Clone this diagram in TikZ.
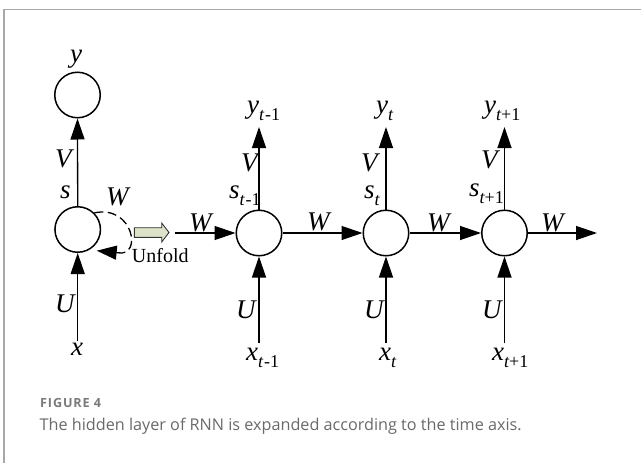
\documentclass[tikz,border=0pt]{standalone}
\usepackage{fontspec}
\setmainfont{Liberation Serif}
\newfontfamily\capfont{Open Sans}
\newfontfamily\figfont[LetterSpace=7]{Open Sans}
\usetikzlibrary{arrows.meta}
\definecolor{framegray}{HTML}{A8A8A8}
\definecolor{capgray}{HTML}{6A6A6A}
\definecolor{figgray}{HTML}{7A7A7A}
\definecolor{unfoldfill}{HTML}{DDE2CB}
% subscript set smaller and lowered, as in the figure
\newcommand{\lsub}[1]{\raisebox{-7pt}{\fontsize{18}{18}\selectfont #1}}
\begin{document}
\begin{tikzpicture}[x=1pt,y=1pt,
  unit/.style={circle,draw,line width=1.5pt,minimum size=45.5pt,inner sep=0pt},
  link/.style={line width=1.3pt,-{Triangle[length=21pt,width=14pt]}},
  lab/.style={inner sep=0pt,anchor=base west,font=\fontsize{27}{27}\selectfont\itshape},
  plain/.style={inner sep=0pt,anchor=base west,font=\fontsize{20}{20}\selectfont},
]
\useasboundingbox (0,0) rectangle (641,-463);
\fill[white] (0,0) rectangle (641,-463);
% frame
\draw[framegray,line width=1.4pt] (4,-463) -- (4,-9.7) -- (641,-9.7);

% folded network
\node[unit] (Cy) at (77.5,-95) {};
\node[unit] (C0) at (77.7,-229.5) {};
% unfolded network
\node[unit] (C1) at (259,-233) {};
\node[unit] (C2) at (386,-233) {};
\node[unit] (C3) at (504.5,-233) {};

% free ends of connectors
\coordinate (x0) at (77.7,-341);
\coordinate (x1) at (259,-343);
\coordinate (x2) at (386,-343);
\coordinate (x3) at (504.5,-343);
\coordinate (y1) at (259,-127);
\coordinate (y2) at (386,-127);
\coordinate (y3) at (504.5,-127);
\coordinate (win) at (175,-233);
\coordinate (wout) at (597,-233);
\coordinate (loopbend) at (118,-252.8);
\coordinate (loopend) at (96.7,-250.7);

% connectors
\draw[link] (C0.north) -- (Cy.south);
\draw[link] (x0) -- (C0.south);
\foreach \i in {1,2,3} {
  \draw[link] (x\i) -- (C\i.south);
  \draw[link] (C\i.north) -- (y\i);
}
\draw[link] (win) -- (C1.west);
\draw[link] (C1.east) -- (C2.west);
\draw[link] (C2.east) -- (C3.west);
\draw[link] (C3.east) -- (wout);

% recurrent self loop: dashed bow, then a solid head back into the unit
\draw[line width=1.3pt,dash pattern=on 9pt off 4.5pt]
  (C0.45) .. controls +(12:40) and +(-10:25) .. (loopbend);
\draw[line width=1.3pt,-{Triangle[length=20pt,width=14pt]}] (loopbend) -- (loopend);

% unfold arrow
\filldraw[fill=unfoldfill,draw=black!80,line width=0.9pt]
  (134.3,-227.7) -- (161.7,-227.7) -- (161.7,-223) -- (169,-232.5)
  -- (161.7,-242) -- (161.7,-237.3) -- (134.3,-237.3) -- cycle;
\node[plain] (unfold) at (131.7,-262) {Unfold};

% labels, folded network
\node[lab] (ly)  at (70,-63)  {y};
\node[lab] (lV0) at (55,-167) {V};
\node[lab] (ls0) at (60,-198) {s};
\node[lab] (lW0) at (106,-205) {W};
\node[lab] (lU0) at (55,-312) {U};
\node[lab] (lx0) at (71,-355) {x};
% labels, unfolded network
\node[lab] (ly1) at (247,-113) {y\lsub{t\kern1pt\upshape-1}};
\node[lab] (ly2) at (376,-113) {y\lsub{t}};
\node[lab] (ly3) at (484,-113) {y\lsub{t\upshape+1}};
\node[lab] (lV1) at (241,-171) {V};
\node[lab] (lV2) at (361,-171) {V};
\node[lab] (lV3) at (481,-168) {V};
\node[lab] (ls1) at (229,-198) {s\lsub{t\kern1pt\upshape-1}};
\node[lab] (ls2) at (364,-198) {s\lsub{t}};
\node[lab] (ls3) at (469,-196) {s\lsub{t\upshape+1}};
\node[lab] (lW1) at (189,-231) {W};
\node[lab] (lW2) at (307,-230) {W};
\node[lab] (lW3) at (427,-231) {W};
\node[lab] (lW4) at (541,-231) {W};
\node[lab] (lU1) at (236,-318) {U};
\node[lab] (lU2) at (364,-318) {U};
\node[lab] (lU3) at (482,-318) {U};
\node[lab] (lx1) at (246,-360) {x\lsub{t\kern1pt\upshape-1}};
\node[lab] (lx2) at (379,-360) {x\lsub{t}};
\node[lab] (lx3) at (492,-360) {x\lsub{t\upshape+1}};

% caption
\node[inner sep=0pt,anchor=base west,text=figgray,font=\figfont\bfseries\fontsize{12.6}{12.6}\selectfont]
  (fig) at (40,-407) {FIGURE 4};
\node[inner sep=0pt,anchor=base west,text=capgray,font=\capfont\fontsize{16.2}{16.2}\selectfont]
  (cap) at (39.5,-430) {The hidden layer of RNN is expanded according to the time axis.};
\end{tikzpicture}
\end{document}
